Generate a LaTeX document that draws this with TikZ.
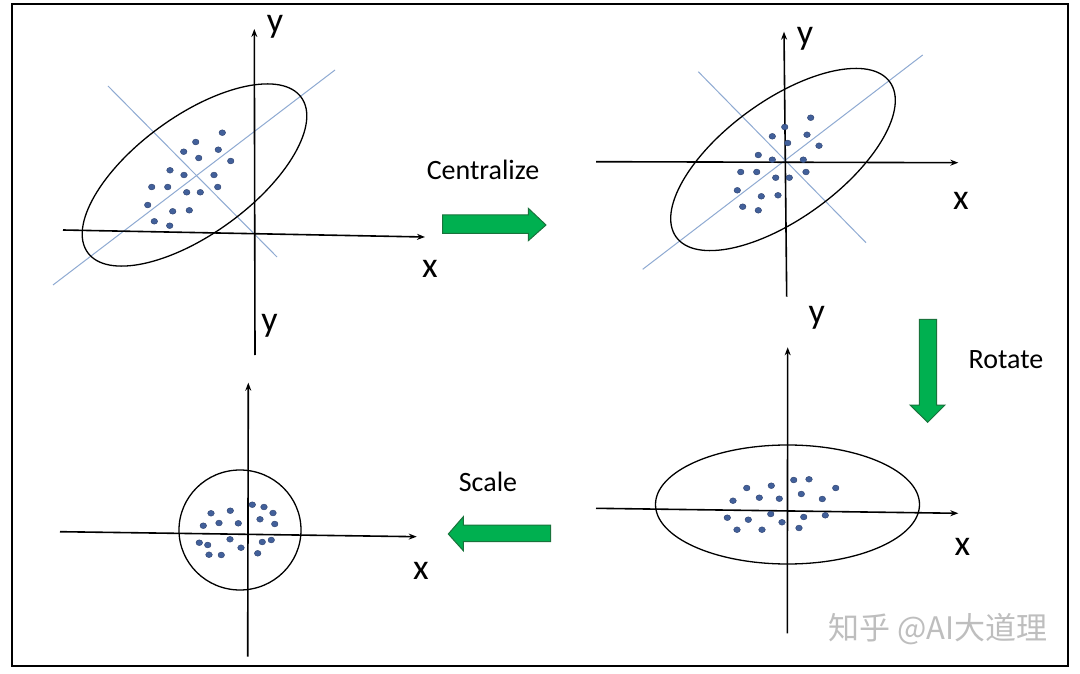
\documentclass[tikz,border=0pt]{standalone}
\usepackage{fontspec}
\setmainfont{Carlito}
\newfontfamily\cjkfont{Noto Sans CJK SC}
\usetikzlibrary{arrows.meta}
\definecolor{dotblue}{RGB}{66,96,154}
\definecolor{dotedge}{RGB}{45,65,110}
\definecolor{pcablue}{RGB}{143,170,210}
\definecolor{arrgreen}{RGB}{0,176,80}
\definecolor{arrgreenedge}{RGB}{25,115,60}
\definecolor{wmgray}{RGB}{190,190,190}
\begin{document}
\begin{tikzpicture}[x=1pt,y=-1pt,
  axisline/.style={line width=1.6pt,-{Stealth[length=8pt,width=6pt]}},
  plainline/.style={line width=1.6pt},
  ring/.style={line width=1.3pt,black},
  pcaline/.style={line width=1pt,pcablue},
  dotst/.style={fill=dotblue,draw=dotedge,line width=0.4pt},
  lab/.style={font=\fontsize{36}{36}\selectfont,inner sep=0pt},
  steplab/.style={font=\fontsize{28}{28}\selectfont,inner sep=0pt},
  greenarrow/.style={fill=arrgreen,draw=arrgreenedge,line width=1pt,line join=miter},
  wmark/.style={font=\cjkfont\fontsize{31}{31}\selectfont,text=wmgray,inner sep=0pt}]
\useasboundingbox (0,0) rectangle (1080,674);
\fill[white] (0,0) rectangle (1080,674);
% frame
\draw[line width=2pt] (12,4) rectangle (1068,666);

% ---------------- top-left panel ----------------
\coordinate (tlYb) at (255,355);
\coordinate (tlYt) at (254.3,29);
\coordinate (tlXl) at (63,230);
\coordinate (tlXr) at (425,237);
\draw[pcaline] (53,285) -- (335,70);
\draw[pcaline] (108,86) -- (277,257);
\draw[ring, rotate around={36:(194.5,175)}] (194.5,175) ellipse [x radius=132pt, y radius=59pt];
\draw[axisline] (tlYb) -- (tlYt);
\draw[axisline] (tlXl) -- (tlXr);
\foreach \p in {(222.3,132.7),(195.7,142),(183.7,151.7),(218.3,149.7),(198.7,158),
  (230.7,161),(170,170.3),(184,175),(214,175),(151.7,187),(167.7,187),(186.7,192.3),
  (200.3,192.3),(217.7,187),(147.7,205),(172.7,211.3),(189.3,210.3),(154.3,221.3),(169.7,225.7)}
  \fill[dotst] \p ellipse [x radius=3.3pt, y radius=2.9pt];
\node[lab] (tly) at (275,26.7) {y};
\node[lab] (tlx) at (430,269) {x};
\node[lab] (bly) at (269.5,326) {y};

% ---------------- top-right panel ----------------
\coordinate (trYb) at (786.7,296.7);
\coordinate (trYt) at (784,31.7);
\coordinate (trXl) at (596,161.7);
\coordinate (trXr) at (958.3,162.7);
\draw[pcaline] (642.7,269.3) -- (922.7,55);
\draw[pcaline] (698.3,71.7) -- (866,242.7);
\draw[ring, rotate around={36:(783,159.5)}] (783,159.5) ellipse [x radius=132pt, y radius=59pt];
\draw[axisline] (trYb) -- (trYt);
\draw[axisline] (trXl) -- (trXr);
\foreach \p in {(810.7,117.7),(784.7,127),(772.3,136.3),(807,134.7),(787.7,143),
  (819,145.7),(758.3,155),(772.3,159.7),(803.3,159.7),(740.7,172),(756.7,172),
  (775.7,177.7),(789.3,177.7),(806,172),(737.3,190.3),(761.3,196.3),(778,195.3),
  (742.7,206.7),(758.3,210.3)}
  \fill[dotst] \p ellipse [x radius=3.3pt, y radius=2.9pt];
\node[lab] (try) at (805,39) {y};
\node[lab] (trx) at (961,200.8) {x};

% ---------------- bottom-right panel ----------------
\coordinate (brYb) at (787.3,633.3);
\coordinate (brYt) at (787.7,347.3);
\coordinate (brXl) at (596,508.3);
\coordinate (brXr) at (958.3,513.3);
\draw[ring] (787.5,504.5) ellipse [x radius=132pt, y radius=59.5pt];
\draw[axisline] (brYb) -- (brYt);
\draw[axisline] (brXl) -- (brXr);
\foreach \p in {(793.7,480),(809,479.3),(771.3,485.7),(746.7,488),(835.7,488),
  (801.3,494),(759.3,497.7),(779.3,498.7),(822.3,499),(733,500.7),(770.7,514),
  (803.7,517),(825.3,515.3),(727.3,517.7),(748.3,519.7),(782,522.3),(737,529.7),
  (762,529.7),(799,528)}
  \fill[dotst] \p ellipse [x radius=3.3pt, y radius=2.9pt];
\node[lab] (bry) at (816.7,317.5) {y};
\node[lab] (brx) at (962.5,546.7) {x};

% ---------------- bottom-left panel ----------------
\coordinate (blYb) at (247.7,656.7);
\coordinate (blYt) at (248.3,382.7);
\coordinate (blXl) at (60,531.7);
\coordinate (blXr) at (416.7,536.7);
\draw[ring] (240,530) ellipse [x radius=61pt, y radius=60pt];
\draw[axisline] (blYb) -- (blYt);
\draw[axisline] (blXl) -- (blXr);
\foreach \p in {(252.3,504.7),(264,507),(230.3,510.7),(273,513),(211,513.3),
  (260,519.3),(219,523),(238.3,523.3),(274.7,524),(203.3,525.7),(230,539.3),
  (271.3,540),(262.3,542),(199.3,542.7),(207.7,545),(241,547.7),(209,554.7),
  (221.3,555),(257.7,553.3)}
  \fill[dotst] \p ellipse [x radius=3.3pt, y radius=2.9pt];
\node[lab] (blx) at (421,571.3) {x};

% ---------------- step arrows ----------------
\draw[greenarrow] (442.7,215) -- (528.3,215) -- (528.3,208.3) -- (546,225)
  -- (528.3,240.7) -- (528.3,233.3) -- (442.7,233.3) -- cycle;
\node[steplab] (cent) at (483,170) {Centralize};

\draw[greenarrow] (919.3,319.3) -- (936.7,319.3) -- (936.7,405) -- (945,405)
  -- (927.7,422.3) -- (910,405) -- (919.3,405) -- cycle;
\node[steplab] (rot) at (1006,360) {Rotate};

\draw[greenarrow] (550.7,525) -- (463.3,525) -- (463.3,516.7) -- (448.3,534)
  -- (463.3,550.7) -- (463.3,541.7) -- (550.7,541.7) -- cycle;
\node[steplab] (scl) at (488,482) {Scale};

% watermark
\node[wmark] (wm) at (938,629) {知乎 @AI大道理};
\end{tikzpicture}
\end{document}
